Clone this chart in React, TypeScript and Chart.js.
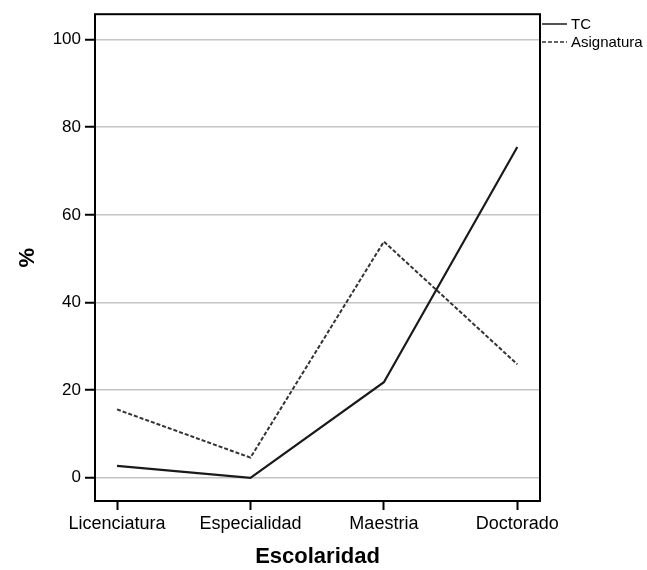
import { useEffect, useRef } from 'react';
import { Chart, registerables } from 'chart.js';

Chart.register(...registerables);

const categories = ['Licenciatura', 'Especialidad', 'Maestria', 'Doctorado'];
const tcValues = [2.7, 0, 21.8, 75.5];
const asignaturaValues = [15.6, 4.6, 53.9, 25.9];
const yTicks = [0, 20, 40, 60, 80, 100];

const FONT = '"Liberation Sans", Arial, sans-serif';

// frame around plot area + legend outside on the right
const framePlugin = {
  id: 'frame',
  afterDraw(chart: any) {
    const { ctx, chartArea } = chart;
    ctx.save();
    ctx.strokeStyle = '#000';
    ctx.lineWidth = 2;
    ctx.strokeRect(chartArea.left, chartArea.top, chartArea.right - chartArea.left, chartArea.bottom - chartArea.top);

    const x0 = chartArea.right + 2;
    chart.data.datasets.forEach((ds: any, i: number) => {
      const y = 24 + i * 18;
      ctx.beginPath();
      ctx.strokeStyle = ds.borderColor;
      ctx.lineWidth = 1.5;
      ctx.setLineDash(ds.borderDash || []);
      ctx.moveTo(x0, y);
      ctx.lineTo(x0 + 25, y);
      ctx.stroke();
      ctx.setLineDash([]);
      ctx.fillStyle = '#000';
      ctx.font = `15px ${FONT}`;
      ctx.textBaseline = 'middle';
      ctx.fillText(ds.label, x0 + 29, y + 1);
    });
    ctx.restore();
  },
};

export default function App() {
  const chartRef = useRef<HTMLCanvasElement>(null);
  const chartInstance = useRef<Chart | null>(null);

  useEffect(() => {
    if (!chartRef.current) return;
    if (chartInstance.current) chartInstance.current.destroy();
    const ctx = chartRef.current.getContext('2d');
    if (!ctx) return;

    chartInstance.current = new Chart(ctx, {
      type: 'line',
      data: {
        datasets: [
          {
            label: 'TC',
            data: tcValues.map((v, i) => ({ x: i, y: v })),
            borderColor: '#1a1a1a',
            borderWidth: 2.2,
            pointRadius: 0,
            tension: 0,
          },
          {
            label: 'Asignatura',
            data: asignaturaValues.map((v, i) => ({ x: i, y: v })),
            borderColor: '#333333',
            borderWidth: 2,
            borderDash: [4, 2],
            pointRadius: 0,
            tension: 0,
          },
        ],
      },
      options: {
        responsive: false,
        animation: false,
        layout: { padding: { top: 14, right: 107, left: 0, bottom: 0 } },
        plugins: {
          legend: { display: false },
          tooltip: { enabled: false },
        },
        scales: {
          x: {
            type: 'linear',
            min: -0.165,
            max: 3.17,
            afterBuildTicks: (scale: any) => {
              scale.ticks = categories.map((_, i) => ({ value: i }));
            },
            afterFit: (scale: any) => {
              scale.height = 69;
            },
            grid: {
              drawOnChartArea: false,
              drawTicks: true,
              tickLength: 9,
              tickColor: '#000',
              tickWidth: 2,
            },
            border: { display: false },
            ticks: {
              autoSkip: false,
              maxRotation: 0,
              padding: 3,
              color: '#000',
              font: { family: FONT, size: 18 },
              callback: (v: any) => categories[v] ?? '',
            },
            title: {
              display: true,
              text: 'Escolaridad',
              color: '#000',
              font: { family: FONT, size: 22, weight: 'bold' },
              padding: { top: 0, bottom: 0 },
            },
          },
          y: {
            min: -5.3,
            max: 105.8,
            afterBuildTicks: (scale: any) => {
              scale.ticks = yTicks.map((v) => ({ value: v }));
            },
            afterFit: (scale: any) => {
              scale.width = 95;
            },
            grid: {
              color: '#c4c4c4',
              lineWidth: 1.5,
              tickLength: 10,
              tickColor: '#000',
              tickWidth: 2,
            },
            border: { display: false },
            ticks: {
              padding: 4,
              color: '#000',
              font: { family: FONT, size: 17 },
            },
            title: {
              display: true,
              text: '%',
              color: '#000',
              font: { family: FONT, size: 22, weight: 'bold' },
              padding: { top: 15, bottom: 0 },
            },
          },
        },
      },
      plugins: [framePlugin],
    });

    return () => {
      if (chartInstance.current) {
        chartInstance.current.destroy();
        chartInstance.current = null;
      }
    };
  }, []);

  return (
    <div style={{ position: 'fixed', left: 0, top: 0, width: 647, height: 570, background: '#fff' }}>
      <canvas ref={chartRef} width={647} height={570} style={{ width: 647, height: 570 }} />
    </div>
  );
}
